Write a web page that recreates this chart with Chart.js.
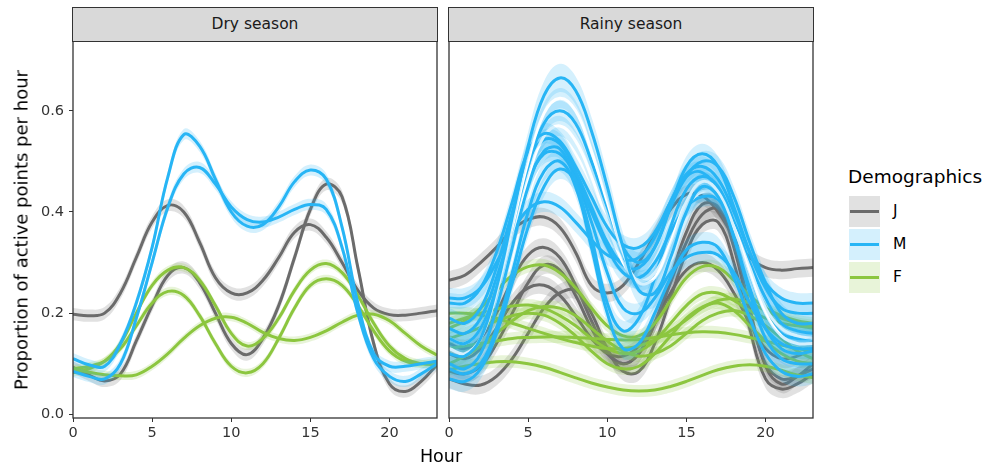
<!DOCTYPE html>
<html>
<head>
<meta charset="utf-8">
<script src="https://cdn.jsdelivr.net/npm/chart.js@4.4.0/dist/chart.umd.min.js"></script>
<style>
  body { margin: 0; background: #fff; font-family: "DejaVu Sans", sans-serif; }
  #wrap { position: relative; width: 995px; height: 471px; overflow: hidden; }
  canvas { position: absolute; top: 41px; }
  .strip { position: absolute; top: 7px; height: 35px; width: 366px; box-sizing: border-box;
           background: #d9d9d9; border: 1.3px solid #333; color: #1a1a1a; font-size: 15.5px;
           line-height: 33px; text-align: center; }
  #ytitle { position: absolute; left: 21px; top: 230px; transform: translate(-50%, -50%) rotate(-90deg);
            white-space: nowrap; font-size: 18px; color: #000; }
  #xtitle { position: absolute; left: 441px; top: 456px; transform: translate(-50%, -50%);
            font-size: 17.5px; color: #000; }
  #legend { position: absolute; left: 848px; top: 166px; }
  #legend .title { font-size: 18.5px; color: #000; margin-bottom: 9px; }
  .key { position: relative; height: 33px; }
  .key .box { position: absolute; left: 1px; top: 0; width: 31px; height: 31px; }
  .key .ln { position: absolute; left: 2px; top: 14px; width: 29px; height: 3px; }
  .key .lab { position: absolute; left: 45px; top: 6px; font-size: 15.5px; color: #000; }
</style>
</head>
<body>
<div id="wrap">
  <div class="strip" style="left:72px">Dry season</div>
  <div class="strip" style="left:448px">Rainy season</div>
  <canvas id="dry" width="440" height="407" style="left:0px"></canvas>
  <canvas id="rainy" width="440" height="407" style="left:376px"></canvas>
  <div id="ytitle">Proportion of active points per hour</div>
  <div id="xtitle">Hour</div>
  <div id="legend"></div>
</div>
<script>
// hours of the day
const hours = [0,1,2,3,4,5,6,7,8,9,10,11,12,13,14,15,16,17,18,19,20,21,22,23];
const xTicks = [0, 5, 10, 15, 20];
const yTicks = [0, 0.2, 0.4, 0.6];

// groups
const groupNames = ['J', 'M', 'F'];
const groupLine = { J: '#6b6b6b', M: '#27b5f5', F: '#8cc63f' };
const groupFill = { J: 'rgba(120,120,120,0.22)', M: 'rgba(39,181,245,0.2)', F: 'rgba(140,198,63,0.2)' };

// dry season smoothed curves
const dryJ1 = [.198,.195,.2,.24,.31,.38,.413,.4,.34,.27,.24,.24,.265,.31,.36,.375,.35,.3,.245,.21,.197,.196,.2,.205];
const dryJ2 = [.093,.078,.066,.08,.145,.215,.275,.29,.26,.2,.14,.118,.15,.215,.31,.405,.455,.43,.29,.14,.06,.045,.065,.098];
const dryM1 = [.11,.098,.095,.14,.22,.33,.47,.553,.53,.465,.4,.372,.375,.41,.46,.483,.465,.37,.22,.12,.095,.095,.1,.105];
const dryM2 = [.085,.075,.07,.1,.19,.3,.41,.475,.488,.455,.41,.385,.38,.39,.405,.415,.405,.33,.2,.11,.075,.065,.08,.1];
const dryF1 = [.082,.09,.105,.14,.2,.255,.285,.29,.265,.215,.16,.135,.15,.19,.245,.285,.298,.28,.235,.18,.135,.11,.1,.098];
const dryF2 = [.09,.095,.105,.13,.175,.22,.243,.235,.195,.14,.095,.082,.1,.15,.21,.255,.268,.255,.215,.165,.125,.105,.1,.105];
const dryF3 = [.09,.083,.078,.076,.078,.095,.12,.15,.175,.19,.192,.18,.162,.15,.146,.152,.165,.182,.196,.198,.185,.16,.135,.117];

// rainy season smoothed curves
const rainyJ1 = [.265,.275,.3,.33,.365,.385,.39,.37,.32,.255,.24,.255,.3,.355,.405,.435,.432,.4,.35,.31,.29,.285,.288,.29];
const rainyJ2 = [.14,.13,.15,.2,.265,.315,.33,.31,.255,.185,.125,.1,.12,.18,.27,.36,.415,.41,.33,.2,.1,.07,.075,.09];
const rainyJ3 = [.07,.06,.058,.075,.11,.16,.21,.24,.245,.2,.13,.085,.085,.14,.23,.32,.375,.38,.3,.17,.07,.05,.06,.08];
const rainyJ4 = [.085,.08,.095,.14,.2,.26,.295,.285,.235,.17,.12,.1,.12,.18,.26,.34,.395,.405,.34,.21,.095,.06,.075,.1];
const rainyJ5 = [.12,.11,.13,.17,.22,.25,.255,.235,.195,.15,.12,.115,.135,.18,.24,.285,.3,.285,.24,.18,.13,.11,.115,.13];
const rainyF1 = [.17,.185,.21,.245,.275,.292,.295,.28,.25,.21,.175,.155,.155,.18,.225,.27,.292,.29,.265,.235,.21,.195,.185,.18];
const rainyF2 = [.18,.19,.2,.208,.214,.216,.21,.195,.175,.15,.13,.12,.125,.145,.18,.215,.238,.24,.225,.205,.19,.18,.175,.17];
const rainyF3 = [.15,.16,.172,.185,.195,.2,.196,.18,.155,.125,.1,.09,.095,.12,.155,.19,.212,.22,.205,.175,.145,.12,.105,.1];
const rainyF4 = [.13,.135,.14,.145,.15,.152,.153,.153,.152,.15,.148,.147,.148,.152,.157,.161,.163,.162,.158,.152,.145,.137,.13,.125];
const rainyF5 = [.088,.095,.1,.104,.104,.1,.093,.083,.072,.062,.054,.048,.046,.048,.055,.065,.077,.088,.095,.098,.095,.087,.078,.072];
const rainyF6 = [.1,.115,.135,.16,.185,.205,.213,.21,.195,.17,.145,.125,.115,.12,.135,.16,.185,.2,.205,.195,.175,.15,.125,.11];
const rainyF7 = [.2,.2,.196,.19,.18,.17,.16,.15,.142,.135,.13,.13,.135,.147,.165,.187,.21,.225,.228,.22,.205,.19,.18,.175];
const rainyM1 = [.12,.115,.15,.25,.39,.53,.63,.665,.64,.56,.45,.33,.245,.24,.31,.4,.45,.43,.35,.25,.17,.13,.12,.125];
const rainyM2 = [.15,.14,.17,.25,.37,.49,.575,.6,.575,.5,.41,.33,.3,.33,.41,.49,.515,.49,.41,.32,.25,.21,.2,.2];
const rainyM3 = [.22,.22,.25,.32,.42,.52,.555,.54,.49,.43,.37,.335,.33,.36,.42,.475,.49,.465,.4,.32,.26,.23,.22,.22];
const rainyM4 = [.19,.18,.21,.29,.4,.5,.543,.535,.48,.41,.34,.295,.29,.33,.41,.47,.5,.49,.43,.34,.26,.2,.18,.18];
const rainyM5 = [.1,.09,.12,.21,.33,.45,.52,.525,.46,.35,.22,.165,.19,.27,.37,.445,.47,.45,.38,.28,.2,.16,.15,.15];
const rainyM6 = [.17,.16,.19,.27,.37,.46,.515,.515,.47,.4,.33,.28,.27,.3,.36,.41,.43,.425,.38,.3,.23,.18,.165,.16];
const rainyM7 = [.09,.08,.1,.17,.28,.4,.48,.5,.45,.33,.2,.13,.14,.2,.27,.325,.34,.33,.27,.19,.12,.085,.075,.08];
const rainyM8 = [.07,.065,.09,.16,.26,.37,.45,.485,.46,.38,.28,.21,.2,.23,.28,.31,.32,.315,.28,.22,.17,.14,.13,.13];
const rainyM9 = [.23,.23,.25,.3,.36,.405,.42,.41,.38,.345,.315,.305,.31,.35,.42,.47,.478,.44,.35,.24,.15,.11,.1,.1];
// two M curves whose line is drawn in white
const rainyM10 = [.13,.12,.15,.24,.37,.5,.595,.625,.6,.52,.42,.32,.26,.27,.34,.42,.46,.44,.37,.28,.2,.155,.14,.14];
const rainyM11 = [.15,.14,.17,.25,.36,.47,.55,.57,.54,.47,.38,.3,.265,.28,.34,.41,.44,.43,.37,.29,.21,.17,.155,.15];

// standard error of each fit (ribbon half-width)
const drySe = { J: 0.012, M: 0.011, F: 0.008 };
const rainySe = { J: 0.018, M: 0.02, F: 0.012 };

const drySeries = [
  { grp: 'J', vals: dryJ1 }, { grp: 'J', vals: dryJ2 },
  { grp: 'F', vals: dryF1 }, { grp: 'F', vals: dryF2 }, { grp: 'F', vals: dryF3 },
  { grp: 'M', vals: dryM1 }, { grp: 'M', vals: dryM2 }
];
const rainySeries = [
  { grp: 'J', vals: rainyJ1 }, { grp: 'J', vals: rainyJ2 }, { grp: 'J', vals: rainyJ3 },
  { grp: 'J', vals: rainyJ4 }, { grp: 'J', vals: rainyJ5 },
  { grp: 'F', vals: rainyF1 }, { grp: 'F', vals: rainyF2 }, { grp: 'F', vals: rainyF3 },
  { grp: 'F', vals: rainyF4 }, { grp: 'F', vals: rainyF5 }, { grp: 'F', vals: rainyF6 }, { grp: 'F', vals: rainyF7 },
  { grp: 'M', vals: rainyM9 }, { grp: 'M', vals: rainyM8 }, { grp: 'M', vals: rainyM7 },
  { grp: 'M', vals: rainyM6 }, { grp: 'M', vals: rainyM5 }, { grp: 'M', vals: rainyM4 },
  { grp: 'M', vals: rainyM11, line: '#ffffff' }, { grp: 'M', vals: rainyM3 },
  { grp: 'M', vals: rainyM2 }, { grp: 'M', vals: rainyM10, line: '#ffffff' }, { grp: 'M', vals: rainyM1, se: 0.028 }
];

// full border round each panel
const panelBorder = {
  id: 'panelBorder',
  afterDraw(chart) {
    const a = chart.chartArea, ctx = chart.ctx;
    ctx.save();
    ctx.strokeStyle = '#333';
    ctx.lineWidth = 1.3;
    ctx.strokeRect(a.left, a.top, a.right - a.left, a.bottom - a.top);
    ctx.restore();
  }
};

function toPts(vals, off) {
  return vals.map((v, i) => ({ x: hours[i], y: v + off }));
}

// no extra room for half tick labels at the ends of the axes
function noEdgePadding(sc) {
  sc.paddingTop = 0; sc.paddingBottom = 0;
  sc.paddingLeft = 0; sc.paddingRight = 0;
}

function drawPanel(eleId, series, seTab, showY) {
  const datasets = [];
  series.forEach(s => {
    const se = s.se || seTab[s.grp];
    const lowIdx = datasets.length;
    // ribbon: lower edge, then upper edge filled down to it
    datasets.push({ data: toPts(s.vals, -se), borderWidth: 0, borderColor: 'rgba(0,0,0,0)', fill: false });
    datasets.push({ data: toPts(s.vals, se), borderWidth: 0, borderColor: 'rgba(0,0,0,0)',
                    fill: lowIdx, backgroundColor: groupFill[s.grp] });
    // fitted line
    datasets.push({ data: toPts(s.vals, 0), borderWidth: 3, borderColor: s.line || groupLine[s.grp], fill: false });
  });
  // first pushed gets drawn first
  datasets.forEach((d, i) => {
    d.order = datasets.length - i;
    d.pointRadius = 0;
    d.tension = 0.4;
  });

  const tickFont = { family: 'DejaVu Sans', size: 14.5 };
  return new Chart(document.getElementById(eleId).getContext('2d'), {
    type: 'line',
    data: { datasets: datasets },
    options: {
      responsive: false,
      animation: false,
      devicePixelRatio: 1,
      layout: { padding: { top: 0, right: 3, bottom: 0, left: 0 } },
      plugins: { legend: { display: false }, tooltip: { enabled: false } },
      scales: {
        x: {
          type: 'linear', min: 0, max: 23,
          afterBuildTicks: sc => { sc.ticks = xTicks.map(v => ({ value: v })); },
          afterFit: sc => { sc.height = 30; noEdgePadding(sc); },
          ticks: { font: tickFont, color: '#333', padding: 3, maxRotation: 0 },
          grid: { drawOnChartArea: false, drawTicks: true, tickLength: 4, color: '#333' },
          border: { display: false }
        },
        y: {
          min: -0.0073, max: 0.738,
          afterBuildTicks: sc => { sc.ticks = yTicks.map(v => ({ value: v })); },
          afterFit: sc => { sc.width = 73; noEdgePadding(sc); },
          ticks: { display: showY, font: tickFont, color: '#333', padding: 5,
                   callback: v => v.toFixed(1) },
          grid: { display: showY, drawOnChartArea: false, drawTicks: true, tickLength: 4, color: '#333' },
          border: { display: false }
        }
      }
    },
    plugins: [panelBorder]
  });
}

drawPanel('dry', drySeries, drySe, true);
drawPanel('rainy', rainySeries, rainySe, false);

// legend
const legendEl = document.getElementById('legend');
let html = '<div class="title">Demographics</div>';
groupNames.forEach(g => {
  html += '<div class="key"><div class="box" style="background:' + groupFill[g] + '"></div>' +
          '<div class="ln" style="background:' + groupLine[g] + '"></div>' +
          '<div class="lab">' + g + '</div></div>';
});
legendEl.innerHTML = html;
</script>
</body>
</html>
